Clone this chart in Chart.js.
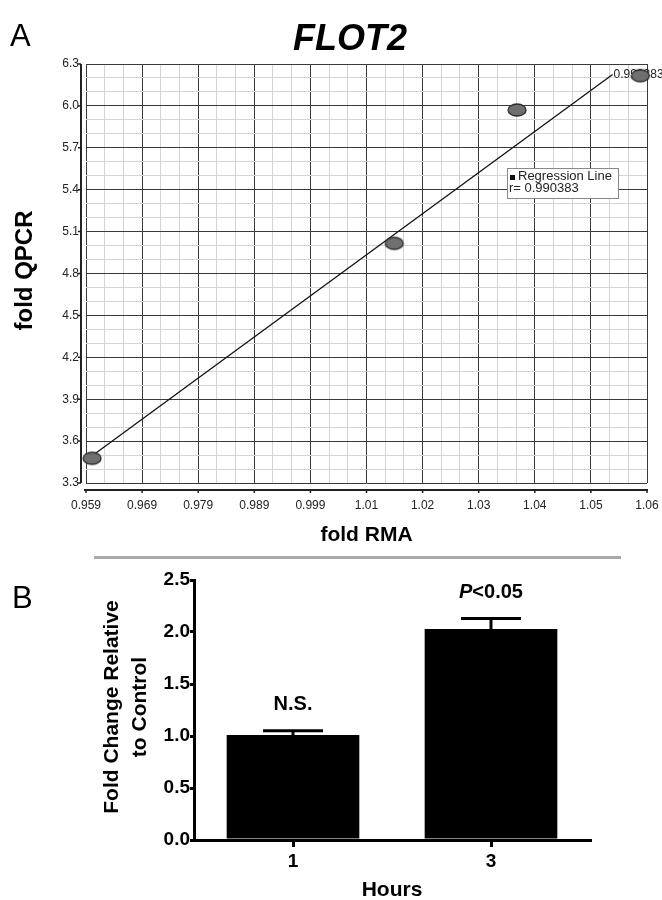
<!DOCTYPE html>
<html>
<head>
<meta charset="utf-8">
<script src="https://cdn.jsdelivr.net/npm/chart.js@4.4.0/dist/chart.umd.min.js"></script>
<style>
  body { margin: 0; background: #fff; }
  #wrap { position: relative; width: 662px; height: 900px; }
  #topBox { position: absolute; left: 0; top: 0; }
  #bottomBox { position: absolute; left: 0; top: 560px; }
  #sep { position: absolute; left: 94px; top: 556px; width: 527px; height: 3px; background: #aaa; }
</style>
</head>
<body>
<div id="wrap">
  <div id="topBox"><canvas id="scatterChart" width="662" height="550"></canvas></div>
  <div id="sep"></div>
  <div id="bottomBox"><canvas id="barChart" width="662" height="340"></canvas></div>
</div>
<script>
// Panel A - fold RMA vs fold QPCR
const rmaValues = [0.9601, 1.0145, 1.0366, 1.0588];
const qpcrValues = [3.477, 5.016, 5.971, 6.216];
const regressionX = [0.9603, 1.0538];
const regressionY = [3.50, 6.225];
const regressionR = '0.990383';
const xTickValues = [0.959, 0.9691, 0.9792, 0.9893, 0.9994, 1.0095, 1.0196, 1.0297, 1.0398, 1.0499, 1.06];
const xTickLabels = ['0.959', '0.969', '0.979', '0.989', '0.999', '1.01', '1.02', '1.03', '1.04', '1.05', '1.06'];
const yTickValues = [3.3, 3.6, 3.9, 4.2, 4.5, 4.8, 5.1, 5.4, 5.7, 6.0, 6.3];
const yTickLabels = ['3.3', '3.6', '3.9', '4.2', '4.5', '4.8', '5.1', '5.4', '5.7', '6.0', '6.3'];

// Panel B - fold change by hours
const hours = ['1', '3'];
const foldChange = [1.01, 2.03];
const foldError = [0.04, 0.10];
const significance = ['N.S.', 'P<0.05'];
const barTicks = [0, 0.5, 1.0, 1.5, 2.0, 2.5];

const FONT = "'Liberation Sans', Arial, sans-serif";

// majors plus two minor lines in between
function withMinor(values) {
    const out = [];
    values.forEach((v, i) => {
        out.push({ value: v, major: true });
        if (i < values.length - 1) {
            const step = (values[i + 1] - v) / 3;
            out.push({ value: v + step, major: false });
            out.push({ value: v + 2 * step, major: false });
        }
    });
    return out;
}

function ellipseMarker(w, h) {
    const c = document.createElement('canvas');
    c.width = w + 4;
    c.height = h + 4;
    const g = c.getContext('2d');
    g.beginPath();
    g.ellipse(c.width / 2, c.height / 2, w / 2, h / 2, 0, 0, Math.PI * 2);
    g.fillStyle = '#6f6f6f';
    g.fill();
    g.lineWidth = 1.3;
    g.strokeStyle = '#2a2a2a';
    g.stroke();
    return c;
}

const panelAPlugin = {
    id: 'panelA',
    afterDatasetDraw(chart, args) {
        if (args.index !== 1) return;
        const p = args.meta.data[args.meta.data.length - 1];
        const ctx = chart.ctx;
        ctx.save();
        ctx.font = '12px ' + FONT;
        ctx.fillStyle = '#222';
        ctx.textAlign = 'left';
        ctx.textBaseline = 'middle';
        ctx.fillText(regressionR, p.x + 1, p.y);
        ctx.restore();
    },
    afterDraw(chart) {
        const ctx = chart.ctx;
        const { left, right, top, bottom } = chart.chartArea;
        const xs = chart.scales.x, ys = chart.scales.y;
        ctx.save();

        // panel letter and title
        ctx.fillStyle = '#000';
        ctx.textBaseline = 'alphabetic';
        ctx.textAlign = 'left';
        ctx.font = '31px ' + FONT;
        ctx.fillText('A', 10, 46);
        ctx.textAlign = 'center';
        ctx.font = 'italic bold 36px ' + FONT;
        ctx.fillText('FLOT2', 350, 50);

        // detached axis lines
        ctx.strokeStyle = '#222';
        ctx.lineWidth = 2;
        ctx.beginPath();
        ctx.moveTo(left - 5, top);
        ctx.lineTo(left - 5, bottom);
        ctx.moveTo(left - 2, bottom + 7);
        ctx.lineTo(right + 1, bottom + 7);
        ctx.stroke();
        ctx.lineWidth = 1.5;
        ctx.beginPath();
        yTickValues.forEach(v => {
            const y = ys.getPixelForValue(v);
            ctx.moveTo(left - 8, y);
            ctx.lineTo(left - 5, y);
        });
        xTickValues.forEach(v => {
            const x = xs.getPixelForValue(v);
            ctx.moveTo(x, bottom + 7);
            ctx.lineTo(x, bottom + 10);
        });
        ctx.stroke();

        // axis titles
        ctx.fillStyle = '#000';
        ctx.font = 'bold 21px ' + FONT;
        ctx.textAlign = 'center';
        ctx.textBaseline = 'middle';
        ctx.fillText('fold RMA', (left + right) / 2, 535);
        ctx.save();
        ctx.font = 'bold 24px ' + FONT;
        ctx.translate(25, (top + bottom) / 2 - 3);
        ctx.rotate(-Math.PI / 2);
        ctx.fillText('fold QPCR', 0, 0);
        ctx.restore();

        // legend box
        ctx.fillStyle = '#fff';
        ctx.fillRect(507, 168, 111, 30);
        ctx.strokeStyle = '#888';
        ctx.lineWidth = 1;
        ctx.strokeRect(507.5, 168.5, 111, 30);
        ctx.fillStyle = '#111';
        ctx.fillRect(510, 175, 5, 5);
        ctx.font = '13px ' + FONT;
        ctx.textAlign = 'left';
        ctx.textBaseline = 'middle';
        ctx.fillStyle = '#222';
        ctx.fillText('Regression Line', 518, 176);
        ctx.fillText('r= ' + regressionR, 509, 188);
        ctx.restore();
    }
};

new Chart(document.getElementById('scatterChart'), {
    type: 'scatter',
    data: {
        datasets: [
            {
                data: rmaValues.map((x, i) => ({ x: x, y: qpcrValues[i] })),
                pointStyle: ellipseMarker(18, 12),
                pointRadius: 9,
                clip: false
            },
            {
                data: regressionX.map((x, i) => ({ x: x, y: regressionY[i] })),
                showLine: true,
                borderColor: '#111',
                borderWidth: 1.3,
                pointRadius: 0,
                fill: false
            }
        ]
    },
    options: {
        responsive: false,
        animation: false,
        devicePixelRatio: 1,
        layout: { padding: { top: 64, right: 15, left: 0, bottom: 0 } },
        plugins: { legend: { display: false }, tooltip: { enabled: false } },
        scales: {
            x: {
                type: 'linear',
                min: 0.959,
                max: 1.06,
                afterBuildTicks: s => { s.ticks = withMinor(xTickValues); },
                afterFit: s => { s.height = 67; s.paddingLeft = 0; s.paddingRight = 0; },
                grid: {
                    drawTicks: false,
                    color: c => (c.tick && c.tick.major ? '#3a3a3a' : '#d4d4d4'),
                    lineWidth: 1
                },
                border: { display: false },
                ticks: {
                    autoSkip: false,
                    maxRotation: 0,
                    padding: 15,
                    color: '#222',
                    font: { family: FONT, size: 12 },
                    callback: (v, i, ticks) => (ticks[i].major ? xTickLabels[xTickValues.indexOf(ticks[i].value)] : '')
                }
            },
            y: {
                type: 'linear',
                min: 3.3,
                max: 6.3,
                afterBuildTicks: s => { s.ticks = withMinor(yTickValues); },
                afterFit: s => { s.width = 86; s.paddingTop = 0; s.paddingBottom = 0; },
                grid: {
                    drawTicks: false,
                    color: c => (c.tick && c.tick.major ? '#3a3a3a' : '#d4d4d4'),
                    lineWidth: 1
                },
                border: { display: false },
                ticks: {
                    autoSkip: false,
                    padding: 7,
                    color: '#222',
                    font: { family: FONT, size: 12 },
                    callback: (v, i, ticks) => (ticks[i].major ? yTickLabels[yTickValues.indexOf(ticks[i].value)] : '')
                }
            }
        }
    },
    plugins: [panelAPlugin]
});

const panelBPlugin = {
    id: 'panelB',
    afterDatasetsDraw(chart) {
        const ctx = chart.ctx;
        const ys = chart.scales.y;
        const meta = chart.getDatasetMeta(0);
        ctx.save();
        ctx.strokeStyle = '#000';
        ctx.fillStyle = '#000';
        ctx.lineWidth = 3;
        meta.data.forEach((bar, i) => {
            const yBar = ys.getPixelForValue(foldChange[i]);
            const yTop = ys.getPixelForValue(foldChange[i] + foldError[i]);
            ctx.beginPath();
            ctx.moveTo(bar.x, yBar);
            ctx.lineTo(bar.x, yTop);
            ctx.moveTo(bar.x - 30, yTop);
            ctx.lineTo(bar.x + 30, yTop);
            ctx.stroke();

            const label = significance[i];
            const ly = yTop - 26;
            ctx.textBaseline = 'middle';
            if (label.startsWith('P')) {
                const rest = label.slice(1);
                ctx.font = 'italic bold 20px ' + FONT;
                const wp = ctx.measureText('P').width;
                ctx.font = 'bold 20px ' + FONT;
                const wr = ctx.measureText(rest).width;
                const x0 = bar.x - (wp + wr) / 2;
                ctx.textAlign = 'left';
                ctx.font = 'italic bold 20px ' + FONT;
                ctx.fillText('P', x0, ly);
                ctx.font = 'bold 20px ' + FONT;
                ctx.fillText(rest, x0 + wp, ly);
            } else {
                ctx.textAlign = 'center';
                ctx.font = 'bold 20px ' + FONT;
                ctx.fillText(label, bar.x, ly);
            }
        });

        // panel letter and axis titles
        ctx.textBaseline = 'alphabetic';
        ctx.textAlign = 'left';
        ctx.font = '31px ' + FONT;
        ctx.fillText('B', 12, 48);
        ctx.textAlign = 'center';
        ctx.textBaseline = 'middle';
        ctx.font = 'bold 21px ' + FONT;
        const { left, right, top, bottom } = chart.chartArea;
        ctx.fillText('Hours', (left + right) / 2, 330);
        ctx.save();
        ctx.translate(112, (top + bottom) / 2 - 3);
        ctx.rotate(-Math.PI / 2);
        ctx.fillText('Fold Change Relative', 0, 0);
        ctx.fillText('to Control', 0, 28);
        ctx.restore();
        ctx.restore();
    }
};

new Chart(document.getElementById('barChart'), {
    type: 'bar',
    data: {
        labels: hours,
        datasets: [{
            data: foldChange,
            backgroundColor: '#000',
            barPercentage: 0.67,
            categoryPercentage: 1
        }]
    },
    options: {
        responsive: false,
        animation: false,
        devicePixelRatio: 1,
        layout: { padding: { top: 20, right: 72, left: 0, bottom: 0 } },
        plugins: { legend: { display: false }, tooltip: { enabled: false } },
        scales: {
            x: {
                afterFit: s => { s.height = 60; },
                grid: { offset: false, drawOnChartArea: false, drawTicks: true, tickLength: 7, color: '#000', lineWidth: 3 },
                border: { color: '#000', width: 3 },
                ticks: { color: '#000', padding: 3, font: { family: FONT, size: 19, weight: 'bold' } }
            },
            y: {
                min: 0,
                max: 2.5,
                afterBuildTicks: s => { s.ticks = barTicks.map(v => ({ value: v })); },
                afterFit: s => { s.width = 194; },
                grid: { drawOnChartArea: false, drawTicks: true, tickLength: 4, color: '#000', lineWidth: 3 },
                border: { color: '#000', width: 3 },
                ticks: {
                    color: '#000',
                    padding: 0,
                    font: { family: FONT, size: 19, weight: 'bold' },
                    callback: v => Number(v).toFixed(1)
                }
            }
        }
    },
    plugins: [panelBPlugin]
});
</script>
</body>
</html>
